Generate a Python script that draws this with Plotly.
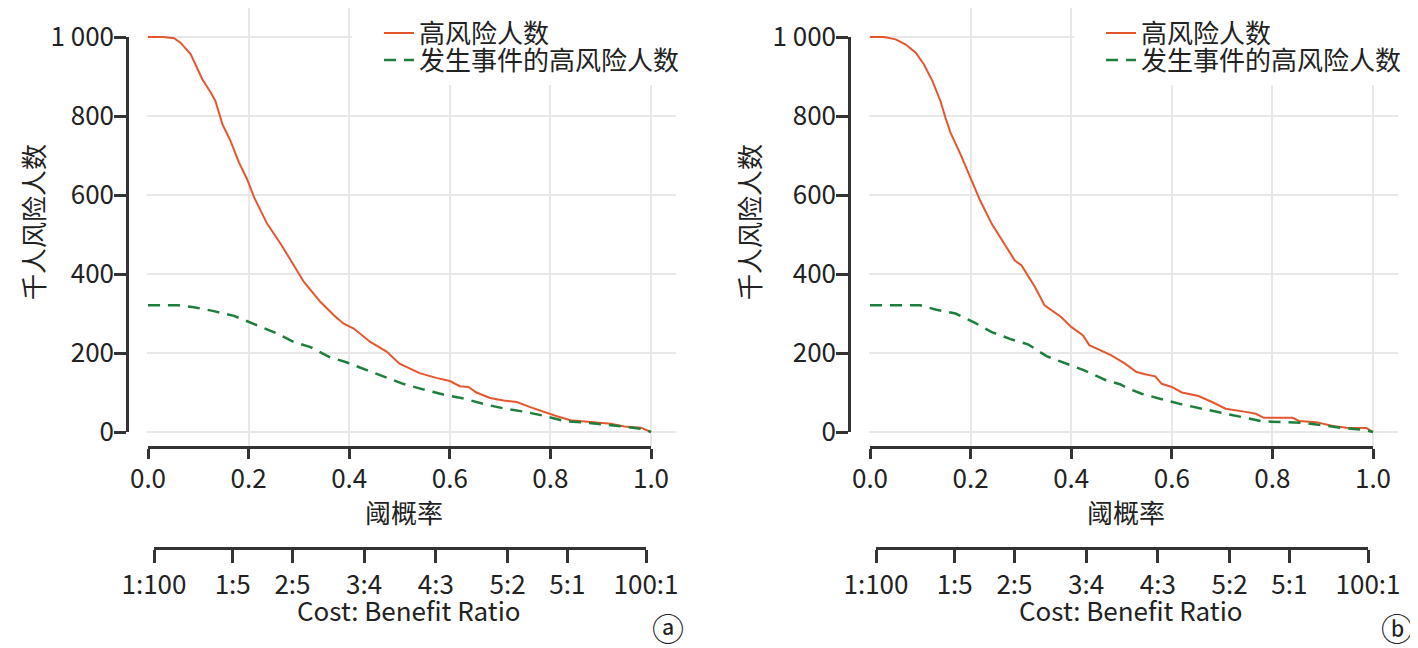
import plotly.graph_objects as go

W, H = 1418, 648
PAGE = 8  # the page body margin shifts the figure by this much
FONT = "Noto Sans CJK SC"
ORANGE = "#e4572e"
GREEN = "#1e7e3c"
GRID = "#e8e8e8"
INK = "#333333"

# panel a: threshold probability vs people per 1000
a_high_p = [0, 0.03, 0.052, 0.065, 0.085, 0.108, 0.125, 0.134, 0.148, 0.164, 0.181, 0.197,
            0.211, 0.237, 0.264, 0.29, 0.31, 0.343, 0.37, 0.389, 0.409, 0.442, 0.475, 0.50,
            0.54, 0.573, 0.6, 0.62, 0.637, 0.653, 0.68, 0.707, 0.733, 0.76, 0.787, 0.813,
            0.84, 0.88, 0.92, 0.947, 0.98, 1.0]
a_high_n = [1000, 1000, 997, 985, 956, 893, 859, 838, 779, 737, 682, 640,
            594, 527, 476, 422, 380, 329, 295, 274, 262, 228, 203, 173,
            149, 137, 129, 116, 114, 100, 86, 80, 76, 63, 51, 40,
            30, 25, 21, 14, 11, 0]
a_event_p = [0, 0.06, 0.091, 0.131, 0.171, 0.211, 0.25, 0.29, 0.323, 0.36, 0.396, 0.436,
             0.472, 0.507, 0.547, 0.587, 0.63, 0.67, 0.71, 0.75, 0.787, 0.83, 0.87, 0.91,
             0.95, 0.987, 1.0]
a_event_n = [321, 321, 316, 306, 294, 274, 253, 228, 215, 190, 176, 156,
             138, 122, 108, 95, 84, 70, 59, 51, 41, 27, 24, 19,
             13, 7, 0]

# panel b
b_high_p = [0, 0.028, 0.051, 0.071, 0.091, 0.107, 0.124, 0.14, 0.15, 0.16, 0.18, 0.199,
            0.219, 0.242, 0.268, 0.288, 0.301, 0.328, 0.347, 0.38, 0.40, 0.423, 0.436, 0.459,
            0.48, 0.507, 0.53, 0.547, 0.567, 0.58, 0.6, 0.62, 0.653, 0.68, 0.707, 0.747,
            0.767, 0.783, 0.84, 0.853, 0.887, 0.92, 0.947, 0.987, 1.0]
b_high_n = [1000, 1000, 994, 981, 960, 931, 889, 838, 796, 758, 703, 644,
            586, 527, 476, 434, 422, 367, 321, 291, 266, 245, 220, 207,
            194, 173, 152, 146, 141, 122, 114, 100, 91, 76, 59, 51,
            46, 36, 36, 28, 25, 15, 11, 10, 0]
b_event_p = [0, 0.10, 0.13, 0.17, 0.209, 0.242, 0.282, 0.314, 0.351, 0.39, 0.426, 0.469,
             0.497, 0.513, 0.54, 0.58, 0.62, 0.66, 0.70, 0.74, 0.78, 0.82, 0.86, 0.90,
             0.94, 0.98, 1.0]
b_event_n = [321, 321, 310, 300, 276, 253, 234, 222, 192, 173, 156, 131,
             121, 110, 97, 83, 70, 59, 48, 38, 27, 25, 23, 17,
             10, 6, 0]

x_ticks = [0, 0.2, 0.4, 0.6, 0.8, 1.0]
x_ticktext = ["0.0", "0.2", "0.4", "0.6", "0.8", "1.0"]
y_ticks = [0, 200, 400, 600, 800, 1000]
y_ticktext = ["0", "200", "400", "600", "800", "1 000"]

# cost:benefit ratios shown under the threshold axis
cb_cost = [1, 1, 2, 3, 4, 5, 5, 100]
cb_benefit = [100, 5, 5, 4, 3, 2, 1, 1]
cb_labels = ["1:100", "1:5", "2:5", "3:4", "4:3", "5:2", "5:1", "100:1"]
cb_p = [c / (c + b) for c, b in zip(cb_cost, cb_benefit)]

names = ["高风险人数", "发生事件的高风险人数"]

FW, FH = W - PAGE, H - PAGE


def px(x):
    return (x - PAGE) / FW


def py(y):
    return min(1.0, 1 - (y - PAGE) / FH)


def ax_key(kind, n):
    return kind + "axis" + ("" if n == 1 else str(n))


def ax_ref(kind, n):
    return kind + ("" if n == 1 else str(n))


fig = go.Figure()
tick_font = dict(family=FONT, size=26, color="#222222")
text_font = dict(family=FONT, size=26, color="#222222")


def label(text, x, y, **kw):
    fig.add_annotation(text=text, xref="paper", yref="paper", x=px(x), y=py(y),
                       xanchor="center", yanchor="middle", showarrow=False,
                       font=kw.pop("font", text_font), **kw)


def add_panel(n, dx, high_p, high_n, event_p, event_n, legends, letter, letter_x, ytitle_x):
    # n: grid axes, n+1: drawn x/y axes, n+2: cost-benefit axis
    gx, gy = ax_ref("x", n), ax_ref("y", n)
    fig.add_trace(go.Scatter(x=high_p, y=high_n, mode="lines", name=names[0],
                             line=dict(color=ORANGE, width=2),
                             xaxis=gx, yaxis=gy, legend=legends[0]))
    fig.add_trace(go.Scatter(x=event_p, y=event_n, mode="lines", name=names[1],
                             line=dict(color=GREEN, width=2.5, dash="12px,8px"),
                             xaxis=gx, yaxis=gy, legend=legends[1]))
    # empty traces so the offset axes get drawn
    fig.add_trace(go.Scatter(x=[None], y=[None], xaxis=ax_ref("x", n + 1), yaxis=ax_ref("y", n + 1),
                             showlegend=False, hoverinfo="skip"))
    fig.add_trace(go.Scatter(x=[None], y=[None], xaxis=ax_ref("x", n + 2), yaxis=ax_ref("y", n + 1),
                             showlegend=False, hoverinfo="skip"))

    sx = 503.0  # px per unit of threshold
    sy = 0.395  # px per person
    axis_style = dict(showline=True, linecolor=INK, linewidth=2.5, ticks="outside",
                      tickwidth=2.5, tickcolor=INK, tickfont=tick_font, showgrid=False,
                      zeroline=False, automargin=False, anchor="free")
    fig.update_layout({
        ax_key("x", n): dict(domain=[px(147 + dx), px(676 + dx)], range=[-1 / sx, (676 - 148) / sx],
                             tickvals=x_ticks, showticklabels=False, ticks="", showline=False,
                             zeroline=False, showgrid=True, gridcolor=GRID, gridwidth=1.5,
                             anchor=gy, fixedrange=True),
        ax_key("y", n): dict(domain=[py(447), py(PAGE)], range=[-15 / sy, 1000 + (37 - PAGE) / sy],
                             tickvals=y_ticks, showticklabels=False, ticks="", showline=False,
                             zeroline=False, showgrid=True, gridcolor=GRID, gridwidth=1.5,
                             anchor=gx, fixedrange=True),
        ax_key("x", n + 1): dict(domain=[px(148 + dx), px(651 + dx)], range=[0, 1],
                                 position=py(447), tickvals=x_ticks, ticktext=x_ticktext,
                                 ticklen=10, ticklabelstandoff=-2, **axis_style),
        ax_key("y", n + 1): dict(domain=[py(432), py(37)], range=[0, 1000],
                                 position=px(127 + dx), tickvals=y_ticks, ticktext=y_ticktext,
                                 ticklen=12, ticklabelstandoff=-5, **axis_style),
        ax_key("x", n + 2): dict(domain=[px(154 + dx), px(646 + dx)], range=[cb_p[0], cb_p[-1]],
                                 position=py(548), tickvals=cb_p, ticktext=cb_labels,
                                 ticklen=13, **axis_style),
    })
    for leg, row_y in zip(legends, [33, 60]):
        fig.update_layout({leg: dict(x=px(379 + dx), y=py(row_y), xanchor="left", yanchor="middle",
                                     bgcolor="rgba(0,0,0,0)", borderwidth=0, font=text_font)})

    # white box behind the legend hides the grid there
    fig.add_shape(type="rect", xref=gx, yref=gy, layer="between",
                  x0=(352 - 148) / sx, x1=(676 - 148) / sx,
                  y0=(432 - 85) / sy, y1=1000 + 37 / sy,
                  fillcolor="white", line=dict(width=0))

    label("千人风险人数", ytitle_x, 222, textangle=-90)
    label("阈概率", 404 + dx, 511)
    label("Cost: Benefit Ratio", 409 + dx, 609)
    label(letter, letter_x, 627, font=dict(family=FONT, size=32, color="#222222"))


add_panel(1, 0, a_high_p, a_high_n, a_event_p, a_event_n, ["legend", "legend2"], "ⓐ", 668, 32)
add_panel(4, 722, b_high_p, b_high_n, b_event_p, b_event_n, ["legend3", "legend4"], "ⓑ", 1397, 748)

fig.update_layout(
    width=FW, height=FH,
    margin=dict(l=0, r=0, t=0, b=0, autoexpand=False),
    paper_bgcolor="white",
    plot_bgcolor="rgba(0,0,0,0)",
    font=dict(family=FONT, color="#222222"),
    showlegend=True,
)

fig.write_html("out.html")
